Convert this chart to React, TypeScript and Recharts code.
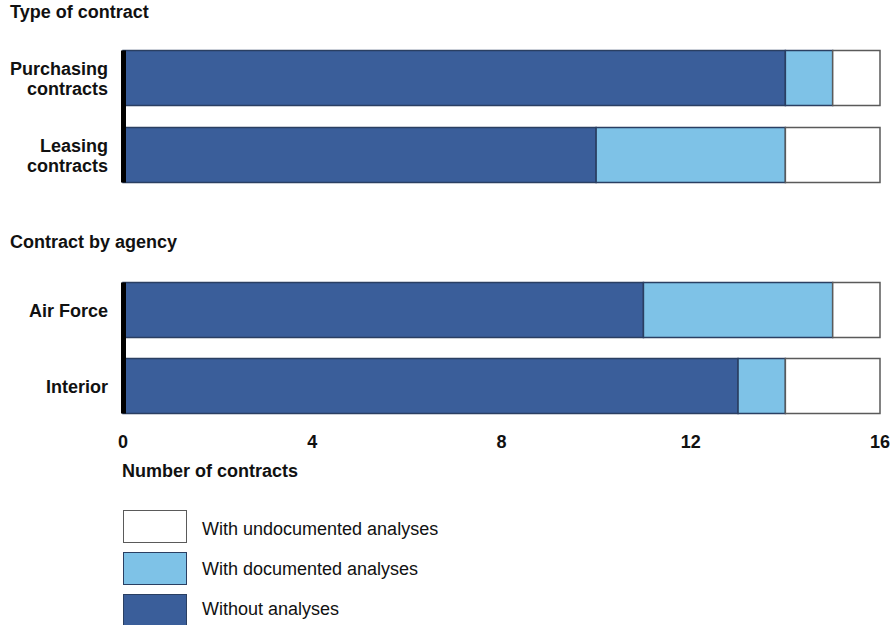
import React from 'react';
import { BarChart, Bar, XAxis, YAxis } from 'recharts';

// Type of contract
const typeCategories = ['Purchasing contracts', 'Leasing contracts'];
const typeWithout = [14, 10];
const typeDocumented = [1, 4];
const typeUndocumented = [1, 2];

// Contract by agency
const agencyCategories = ['Air Force', 'Interior'];
const agencyWithout = [11, 13];
const agencyDocumented = [4, 1];
const agencyUndocumented = [1, 2];

const xTicks = [0, 4, 8, 12, 16];

const series = [
  { key: 'without', name: 'Without analyses', color: '#3A5E9A', stroke: '#2A3F62' },
  { key: 'documented', name: 'With documented analyses', color: '#7EC2E7', stroke: '#2A3F62' },
  { key: 'undocumented', name: 'With undocumented analyses', color: '#FFFFFF', stroke: '#5A5A5A' },
];

const buildRows = (cats: string[], a: number[], b: number[], c: number[]) =>
  cats.map((name, i) => ({ name, without: a[i], documented: b[i], undocumented: c[i] }));

const typeRows = buildRows(typeCategories, typeWithout, typeDocumented, typeUndocumented);
const agencyRows = buildRows(agencyCategories, agencyWithout, agencyDocumented, agencyUndocumented);

const FONT = '"Liberation Sans", Arial, sans-serif';
const BAR_SIZE = 55;
const X_AXIS_HEIGHT = 40;

// category label, split on the space for the two-word contract labels
const CategoryTick = (props: any) => {
  const { x, y, payload } = props;
  const words = String(payload.value).split(' ');
  const twoLine = words[words.length - 1] === 'contracts';
  const lines = twoLine ? [words.slice(0, -1).join(' '), words[words.length - 1]] : [payload.value];
  return (
    <text x={x} y={y} textAnchor="end" fontSize={18} fontWeight="bold" fill="#111">
      {lines.length === 2 ? (
        <>
          <tspan x={x} y={y - 3}>{lines[0]}</tspan>
          <tspan x={x} y={y + 17}>{lines[1]}</tspan>
        </>
      ) : (
        <tspan x={x} y={y + 7}>{lines[0]}</tspan>
      )}
    </text>
  );
};

// first segment also draws the thick black baseline at zero, running through the gaps between bars
const makeBaseShape = (count: number, ext: number, fill: string, stroke: string) => (props: any) => {
  const { x, y, width, height, index } = props;
  const top = index === 0 ? y : y - ext;
  const bottom = index === count - 1 ? y + height : y + height + ext;
  return (
    <g>
      <rect x={x} y={y} width={width} height={height} fill={fill} stroke={stroke} strokeWidth={1.5} />
      <rect x={x - 2} y={top} width={5} height={bottom - top} fill="#000" />
    </g>
  );
};

type PanelProps = {
  rows: any[];
  height: number;
  margin: { top: number; right: number; bottom: number; left: number };
  showAxis: boolean;
};

const Panel: React.FC<PanelProps> = ({ rows, height, margin, showAxis }) => {
  const plotHeight = height - margin.top - margin.bottom - (showAxis ? X_AXIS_HEIGHT : 0);
  const ext = (plotHeight / rows.length - BAR_SIZE) / 2 + 0.5;
  return (
    <BarChart width={892} height={height} data={rows} layout="vertical" margin={margin} barSize={BAR_SIZE}>
      <XAxis
        type="number"
        domain={[0, 16]}
        ticks={xTicks}
        hide={!showAxis}
        axisLine={false}
        tickLine={false}
        tickSize={0}
        tickMargin={12}
        height={X_AXIS_HEIGHT}
        interval={0}
        tick={{ fontSize: 18, fontWeight: 'bold', fill: '#111' }}
      />
      <YAxis
        type="category"
        dataKey="name"
        width={118}
        axisLine={false}
        tickLine={false}
        tickSize={0}
        tickMargin={15}
        tick={<CategoryTick />}
      />
      {series.map((s, i) => (
        <Bar
          key={s.key}
          dataKey={s.key}
          name={s.name}
          stackId="a"
          fill={s.color}
          stroke={s.stroke}
          strokeWidth={1.5}
          isAnimationActive={false}
          shape={i === 0 ? makeBaseShape(rows.length, ext, s.color, s.stroke) : undefined}
        />
      ))}
    </BarChart>
  );
};

const textStyle = (top: number, left: number, bold: boolean): React.CSSProperties => ({
  position: 'absolute',
  top,
  left,
  fontSize: 18,
  lineHeight: '18px',
  fontWeight: bold ? 'bold' : 'normal',
  color: '#111',
  whiteSpace: 'nowrap',
});

const legendOrder = [...series].reverse();

const App: React.FC = () => {
  return (
    <div
      style={{
        position: 'absolute',
        left: 0,
        top: 0,
        width: 892,
        height: 625,
        overflow: 'hidden',
        background: '#fff',
        fontFamily: FONT,
      }}
    >
      <div style={textStyle(3, 10, true)}>Type of contract</div>
      <div style={{ position: 'absolute', left: 0, top: 0 }}>
        <Panel rows={typeRows} height={200} margin={{ top: 39.5, right: 12, bottom: 6.5, left: 5 }} showAxis={false} />
      </div>

      <div style={textStyle(233, 10, true)}>Contract by agency</div>
      <div style={{ position: 'absolute', left: 0, top: 250 }}>
        <Panel rows={agencyRows} height={215} margin={{ top: 21.5, right: 12, bottom: 1.5, left: 5 }} showAxis />
      </div>

      <div style={textStyle(461.5, 122, true)}>Number of contracts</div>

      {legendOrder.map((s, i) => (
        <React.Fragment key={s.key}>
          <div
            style={{
              position: 'absolute',
              left: 123,
              top: 510 + i * 42,
              width: 62,
              height: 31,
              background: s.color,
              border: `1.5px solid ${s.key === 'undocumented' ? '#5A5A5A' : s.stroke}`,
            }}
          />
          <div style={textStyle(520 + i * 40, 202, false)}>{s.name}</div>
        </React.Fragment>
      ))}
    </div>
  );
};

export default App;
